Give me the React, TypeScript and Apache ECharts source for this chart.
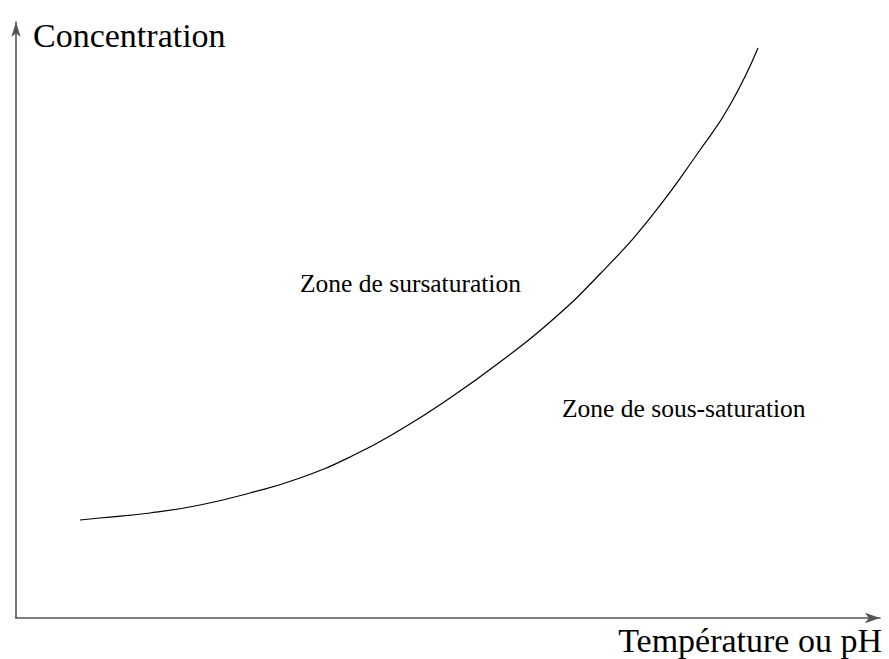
import React, { useEffect, useRef } from "react";
import * as echarts from "echarts";

// Curve (arbitrary units 0..100 on both axes)
const curveX = [7.41, 9.72, 15.51, 21.3, 27.08, 32.87, 38.66, 44.44, 50.23, 56.02, 61.81, 67.59, 73.38, 79.17, 82.64, 85.88];
const curveY = [16.44, 16.78, 17.62, 18.96, 20.97, 23.49, 27.01, 31.54, 36.91, 42.95, 49.66, 57.72, 67.11, 78.52, 86.07, 95.64];

const yAxisTitle = "Concentration";
const xAxisTitle = "Température ou pH";
const zoneLabels = ["Zone de sursaturation", "Zone de sous-saturation"];

const FONT = "'Liberation Serif', 'Times New Roman', serif";

export default function App() {
  const ref = useRef<HTMLDivElement>(null);
  useEffect(() => {
    if (!ref.current) return;
    const chart = echarts.init(ref.current, undefined, { renderer: "svg" });
    const axisCommon = {
      type: "value" as const,
      min: 0,
      max: 100,
      axisTick: { show: false },
      axisLabel: { show: false },
      splitLine: { show: false },
    };
    chart.setOption({
      animation: false,
      backgroundColor: "#ffffff",
      grid: { left: 16, top: 22, width: 864, height: 596 },
      xAxis: {
        ...axisCommon,
        axisLine: {
          show: true,
          symbol: ["none", "arrow"],
          symbolSize: [8, 15],
          lineStyle: { color: "#555555", width: 1.6 },
        },
      },
      yAxis: {
        ...axisCommon,
        axisLine: {
          show: true,
          symbol: ["none", "arrow"],
          symbolSize: [7, 15],
          lineStyle: { color: "#555555", width: 1.6 },
        },
      },
      series: [
        {
          type: "line",
          data: curveX.map((x, i) => [x, curveY[i]]),
          smooth: 0.5,
          showSymbol: false,
          lineStyle: { color: "#000000", width: 1.2 },
        },
      ],
      graphic: [
        {
          type: "text",
          x: 33,
          y: 35.5,
          style: { text: yAxisTitle, font: `34px ${FONT}`, fill: "#000", align: "left", verticalAlign: "middle" },
        },
        {
          type: "text",
          x: 882,
          y: 640,
          style: { text: xAxisTitle, font: `34px ${FONT}`, fill: "#000", align: "right", verticalAlign: "middle" },
        },
        {
          type: "text",
          x: 300,
          y: 283.5,
          style: { text: zoneLabels[0], font: `25.5px ${FONT}`, fill: "#000", align: "left", verticalAlign: "middle" },
        },
        {
          type: "text",
          x: 562,
          y: 408.5,
          style: { text: zoneLabels[1], font: `25.5px ${FONT}`, fill: "#000", align: "left", verticalAlign: "middle" },
        },
      ],
    });
    return () => chart.dispose();
  }, []);
  return (
    <div
      ref={ref}
      style={{ position: "fixed", left: 0, top: 0, width: 889, height: 659 }}
    />
  );
}
